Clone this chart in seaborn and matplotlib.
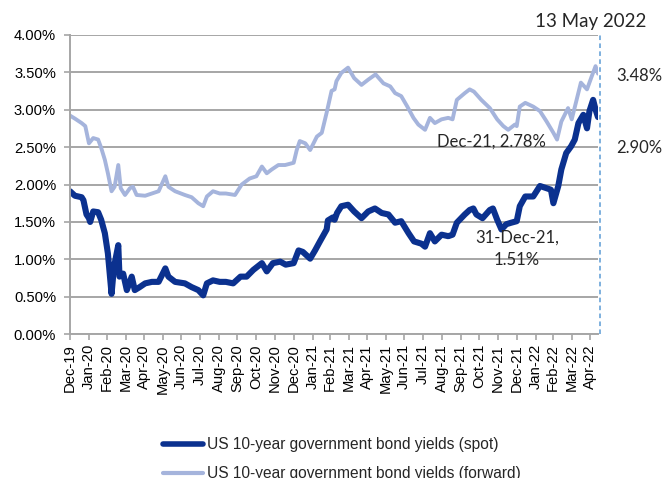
import matplotlib
matplotlib.use("Agg")
import matplotlib.pyplot as plt
from matplotlib.lines import Line2D
from matplotlib.ticker import FuncFormatter
from matplotlib.transforms import offset_copy
import pandas as pd
import seaborn as sns

# US 10-year government bond yields (%), spot
spot_dates = [
    "2019-12-31", "2020-01-08", "2020-01-19", "2020-01-22", "2020-01-27", "2020-01-31",
    "2020-02-02", "2020-02-07", "2020-02-15", "2020-02-20", "2020-02-26", "2020-03-02",
    "2020-03-08", "2020-03-12", "2020-03-19", "2020-03-21", "2020-03-27", "2020-04-02",
    "2020-04-10", "2020-04-15", "2020-04-23", "2020-05-02", "2020-05-13", "2020-05-24",
    "2020-06-04", "2020-06-09", "2020-06-20", "2020-07-06", "2020-07-17", "2020-07-28",
    "2020-08-05", "2020-08-11", "2020-08-21", "2020-09-01", "2020-09-11", "2020-09-23",
    "2020-10-05", "2020-10-15", "2020-10-26", "2020-11-09", "2020-11-17", "2020-11-27",
    "2020-12-09", "2020-12-18", "2020-12-31", "2021-01-08", "2021-01-15", "2021-01-27",
    "2021-02-04", "2021-02-12", "2021-02-23", "2021-02-25", "2021-03-05", "2021-03-08",
    "2021-03-12", "2021-03-19", "2021-03-30", "2021-04-09", "2021-04-21", "2021-05-02",
    "2021-05-13", "2021-05-24", "2021-06-04", "2021-06-15", "2021-06-25", "2021-07-07",
    "2021-07-16", "2021-07-28", "2021-08-03", "2021-08-11", "2021-08-19", "2021-08-30",
    "2021-09-10", "2021-09-17", "2021-09-24", "2021-10-07", "2021-10-15", "2021-10-21",
    "2021-10-26", "2021-11-05", "2021-11-17", "2021-11-22", "2021-11-29", "2021-12-06",
    "2021-12-14", "2021-12-22", "2021-12-31", "2022-01-05", "2022-01-14", "2022-01-27",
    "2022-02-07", "2022-02-18", "2022-02-25", "2022-03-01", "2022-03-09", "2022-03-14",
    "2022-03-22", "2022-03-30", "2022-04-05", "2022-04-11", "2022-04-19", "2022-04-25",
    "2022-04-29", "2022-05-05", "2022-05-09", "2022-05-13",
]
spot_yield = [
    1.91, 1.85, 1.83, 1.79, 1.60, 1.55,
    1.50, 1.64, 1.63, 1.53, 1.35, 1.08,
    0.54, 0.90, 1.19, 0.77, 0.81, 0.59,
    0.77, 0.59, 0.63, 0.68, 0.70, 0.70,
    0.88, 0.77, 0.70, 0.68, 0.63, 0.59,
    0.52, 0.68, 0.72, 0.70, 0.70, 0.68,
    0.77, 0.77, 0.86, 0.95, 0.84, 0.95,
    0.97, 0.93, 0.95, 1.12, 1.10, 1.01,
    1.12, 1.24, 1.40, 1.52, 1.56, 1.53,
    1.62, 1.71, 1.73, 1.64, 1.55, 1.64,
    1.68, 1.62, 1.60, 1.49, 1.51, 1.35,
    1.24, 1.21, 1.17, 1.35, 1.24, 1.33,
    1.31, 1.33, 1.49, 1.60, 1.66, 1.68,
    1.60, 1.55, 1.66, 1.68, 1.53, 1.40,
    1.47, 1.49, 1.51, 1.71, 1.84, 1.84,
    1.98, 1.95, 1.93, 1.75, 1.98, 2.20,
    2.42, 2.51, 2.60, 2.82, 2.93, 2.75,
    2.98, 3.13, 3.00, 2.90,
]

# US 10-year government bond yields (%), forward
fwd_dates = [
    "2019-12-31", "2020-01-08", "2020-01-19", "2020-01-25", "2020-01-31", "2020-02-07",
    "2020-02-15", "2020-02-20", "2020-02-26", "2020-03-02", "2020-03-08", "2020-03-13",
    "2020-03-19", "2020-03-23", "2020-03-30", "2020-04-07", "2020-04-12", "2020-04-18",
    "2020-05-02", "2020-05-13", "2020-05-24", "2020-06-04", "2020-06-09", "2020-06-20",
    "2020-07-06", "2020-07-17", "2020-07-28", "2020-08-05", "2020-08-11", "2020-08-21",
    "2020-09-01", "2020-09-11", "2020-09-26", "2020-10-07", "2020-10-20", "2020-10-31",
    "2020-11-09", "2020-11-17", "2020-11-25", "2020-12-06", "2020-12-17", "2020-12-31",
    "2021-01-05", "2021-01-10", "2021-01-19", "2021-01-27", "2021-02-07", "2021-02-15",
    "2021-02-23", "2021-03-03", "2021-03-08", "2021-03-11", "2021-03-19", "2021-03-30",
    "2021-04-09", "2021-04-21", "2021-05-02", "2021-05-14", "2021-05-27", "2021-06-07",
    "2021-06-15", "2021-06-25", "2021-07-05", "2021-07-15", "2021-07-23", "2021-08-03",
    "2021-08-11", "2021-08-19", "2021-08-30", "2021-09-10", "2021-09-17", "2021-09-24",
    "2021-10-07", "2021-10-15", "2021-10-22", "2021-11-03", "2021-11-17", "2021-11-29",
    "2021-12-09", "2021-12-17", "2021-12-28", "2021-12-31", "2022-01-05", "2022-01-14",
    "2022-01-27", "2022-02-07", "2022-02-18", "2022-03-01", "2022-03-07", "2022-03-14",
    "2022-03-25", "2022-03-31", "2022-04-08", "2022-04-15", "2022-04-25", "2022-05-03",
    "2022-05-09", "2022-05-13",
]
fwd_yield = [
    2.92, 2.88, 2.82, 2.78, 2.55, 2.62,
    2.60, 2.49, 2.33, 2.15, 1.91, 1.97,
    2.26, 1.95, 1.86, 1.95, 1.97, 1.86,
    1.85, 1.88, 1.91, 2.11, 1.97, 1.91,
    1.86, 1.83, 1.75, 1.71, 1.84, 1.91,
    1.88, 1.88, 1.86, 2.00, 2.08, 2.11,
    2.24, 2.15, 2.20, 2.26, 2.26, 2.29,
    2.46, 2.58, 2.55, 2.46, 2.64, 2.69,
    2.96, 3.25, 3.27, 3.38, 3.49, 3.56,
    3.42, 3.33, 3.40, 3.47, 3.35, 3.31,
    3.22, 3.18, 3.04, 2.89, 2.80, 2.73,
    2.89, 2.82, 2.87, 2.89, 2.87, 3.13,
    3.22, 3.27, 3.24, 3.13, 3.02, 2.87,
    2.78, 2.73, 2.80, 2.78, 3.04, 3.09,
    3.04, 2.98, 2.84, 2.69, 2.60, 2.84,
    3.02, 2.87, 3.13, 3.36, 3.27, 3.45,
    3.58, 3.48,
]

month_labels = [
    "Dec-19", "Jan-20", "Feb-20", "Mar-20", "Apr-20", "May-20", "Jun-20", "Jul-20",
    "Aug-20", "Sep-20", "Oct-20", "Nov-20", "Dec-20", "Jan-21", "Feb-21", "Mar-21",
    "Apr-21", "May-21", "Jun-21", "Jul-21", "Aug-21", "Sep-21", "Oct-21", "Nov-21",
    "Dec-21", "Jan-22", "Feb-22", "Mar-22", "Apr-22",
]
y_ticks = [0.0, 0.5, 1.0, 1.5, 2.0, 2.5, 3.0, 3.5, 4.0]

spot_label = "US 10-year government bond yields (spot)"
fwd_label = "US 10-year government bond yields (forward)"
as_of_label = "13 May 2022"

dark_blue = "#0b318f"
light_blue = "#a5b4dc"
grid_grey = "#a6a6a6"

spot_df = pd.DataFrame({"date": pd.to_datetime(spot_dates), "yield": spot_yield})
fwd_df = pd.DataFrame({"date": pd.to_datetime(fwd_dates), "yield": fwd_yield})

sns.set_style("white")
plt.rcParams["font.family"] = ["Liberation Sans", "DejaVu Sans"]

W, H = 663, 478
fig = plt.figure(figsize=(W / 100, H / 100), dpi=100)
ax = fig.add_axes([70 / W, 1 - 334.3 / H, 528 / W, (334.3 - 34.7) / H])

sns.lineplot(data=fwd_df, x="date", y="yield", ax=ax, color=light_blue,
             linewidth=2.8, legend=False, solid_joinstyle="round")
sns.lineplot(data=spot_df, x="date", y="yield", ax=ax, color=dark_blue,
             linewidth=4.4, legend=False, solid_joinstyle="round")

start = spot_df["date"].iloc[0]
end = spot_df["date"].iloc[-1]
ax.set_xlim(start, end)
ax.set_ylim(y_ticks[0], y_ticks[-1])

# monthly ticks sit on the last day of each labelled month
tick_dates = [pd.to_datetime(m, format="%b-%y") + pd.offsets.MonthEnd(0) for m in month_labels]
ax.set_xticks(tick_dates)
ax.set_xticklabels(month_labels, rotation=90)
ax.set_yticks(y_ticks)
ax.yaxis.set_major_formatter(FuncFormatter(lambda v, _: f"{v:.2f}%"))
ax.set_xlabel("")
ax.set_ylabel("")

ax.yaxis.grid(True, color=grid_grey, linewidth=1.4)
ax.xaxis.grid(False)
ax.set_axisbelow(True)
for side in ("top", "right"):
    ax.spines[side].set_visible(False)
for side in ("left", "bottom"):
    ax.spines[side].set_color(grid_grey)
    ax.spines[side].set_linewidth(1.4)

ax.tick_params(axis="x", direction="out", length=4, width=1.2, color=grid_grey,
               pad=3, labelsize=10.6, labelcolor="black")
ax.tick_params(axis="y", direction="out", length=4, width=1.2, color=grid_grey,
               pad=6, labelsize=10.6, labelcolor="black")
ax.tick_params(bottom=True, left=True)

# dashed marker for the latest observation
marker_tf = offset_copy(ax.get_xaxis_transform(), fig=fig, x=2, y=0, units="dots")
ax.plot([end, end], [0, 1.0], transform=marker_tf, color="#5b9bd5",
        linewidth=1.1, linestyle=(0, (3, 2.2)), clip_on=False)

note_font = ["Lato", "DejaVu Sans"]


def px_text(x, y, s, **kw):
    fig.text(x / W, 1 - y / H, s, family=note_font, **kw)


spot_last = spot_yield[-1]
fwd_last = fwd_yield[-1]
spot_ye21 = spot_df.loc[spot_df["date"] == "2021-12-31", "yield"].iloc[0]
fwd_ye21 = fwd_df.loc[fwd_df["date"] == "2021-12-31", "yield"].iloc[0]

px_text(591, 22, as_of_label, fontsize=13.5, ha="center", va="center")
px_text(639, 76, f"{fwd_last:.2f}%", fontsize=12, ha="center", va="center")
px_text(639, 148, f"{spot_last:.2f}%", fontsize=12, ha="center", va="center")
px_text(491, 142, f"Dec-21, {fwd_ye21:.2f}%", fontsize=12, ha="center", va="center")
px_text(517, 249, f"31-Dec-21,\n{spot_ye21:.2f}%", fontsize=12, ha="center",
        va="center", linespacing=1.45)

handles = [
    Line2D([], [], color=dark_blue, linewidth=4.0),
    Line2D([], [], color=light_blue, linewidth=3.0),
]
fig.legend(handles, [spot_label, fwd_label], loc="upper left",
           bbox_to_anchor=(163 / W, 1 - 437 / H), frameon=False, fontsize=11.2,
           handlelength=2.55, handletextpad=0.25, labelspacing=0.9,
           borderpad=0, borderaxespad=0)

fig.savefig("out.png", dpi=100)
